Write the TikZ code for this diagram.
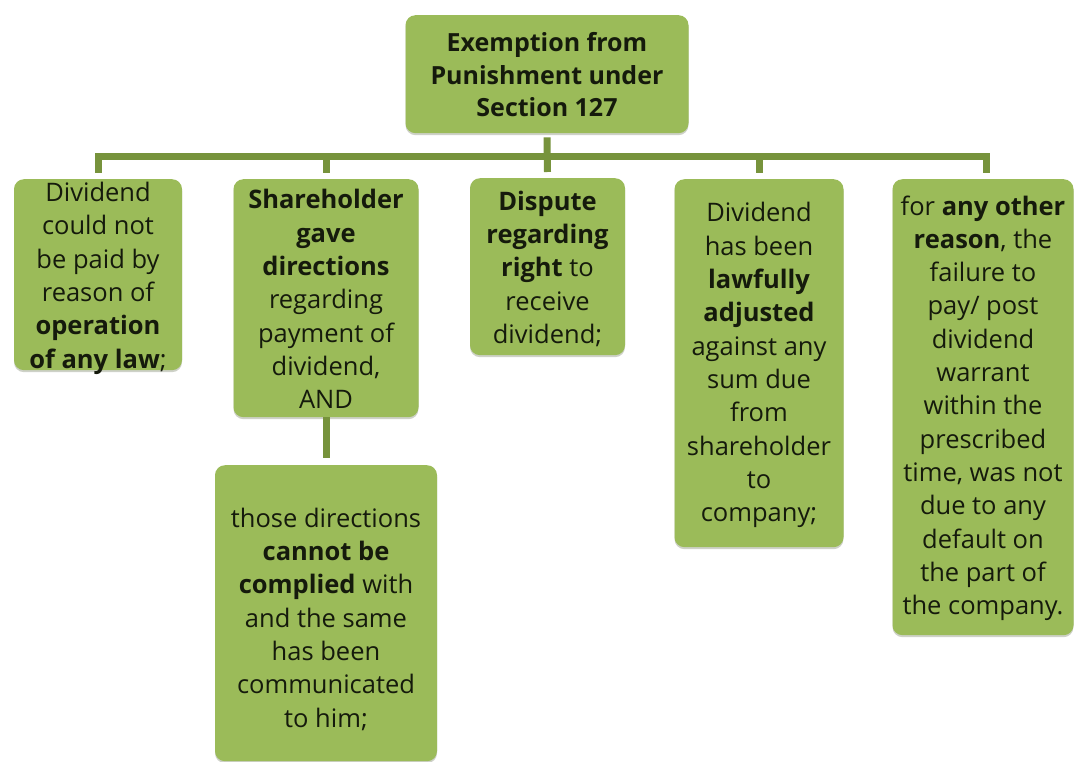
\documentclass[tikz,border=0pt]{standalone}
\usepackage{fontspec}
\setmainfont{Open Sans}
\usetikzlibrary{shadows}
\definecolor{boxgreen}{HTML}{9BBB59}
\definecolor{linegreen}{HTML}{77933C}
\definecolor{ink}{HTML}{151A0C}
\begin{document}
\begin{tikzpicture}[x=1pt,y=-1pt,
  box/.style={draw=none, fill=boxgreen, rounded corners=10pt, inner sep=0pt,
    anchor=north,
    drop shadow={shadow xshift=0pt, shadow yshift=-2pt, opacity=0.25, fill=black!60!boxgreen}},
  txt/.style={inner sep=0pt, align=center, text=ink,
    font=\fontsize{25.5}{33.3}\selectfont},
  conn/.style={draw=linegreen, line width=7pt, line join=miter, line cap=butt}]
\useasboundingbox[fill=white] (0,0) rectangle (1074,762);

% boxes
\node[box, minimum width=283pt, minimum height=118pt] (top) at (547,15) {};
\node[box, minimum width=168pt, minimum height=191pt] (b1) at (98,179) {};
\node[box, minimum width=185pt, minimum height=238pt] (b2) at (326,179) {};
\node[box, minimum width=155pt, minimum height=177pt] (b3) at (547.5,178) {};
\node[box, minimum width=169pt, minimum height=368pt] (b4) at (759,179) {};
\node[box, minimum width=181pt, minimum height=456pt] (b5) at (983,179) {};
\node[box, minimum width=222pt, minimum height=296pt] (b6) at (326,465) {};

% texts
\node[txt, font=\fontsize{25}{32.2}\selectfont\bfseries] (ttop) at ([yshift=-0.5pt]top.center)
  {Exemption from\\ Punishment under\\ Section 127};
\node[txt] (t1) at ([yshift=-3.5pt]b1.center)
  {Dividend\\ could not\\ be paid by\\ reason of\\ \textbf{operation}\\ \textbf{of any law};};
\node[txt] (t2) at ([yshift=-1pt]b2.center)
  {\textbf{Shareholder}\\ \textbf{gave}\\ \textbf{directions}\\ regarding\\ payment of\\ dividend,\\ AND};
\node[txt] (t3) at ([yshift=-2pt]b3.center)
  {\textbf{Dispute}\\ \textbf{regarding}\\ \textbf{right} to\\ receive\\ dividend;};
\node[txt] (t4) at ([yshift=-2pt]b4.center)
  {Dividend\\ has been\\ \textbf{lawfully}\\ \textbf{adjusted}\\ against any\\ sum due\\ from\\ shareholder\\ to\\ company;};
\node[txt] (t5) at ([yshift=-1pt]b5.center)
  {for \textbf{any other}\\ \textbf{reason}, the\\ failure to\\ pay/ post\\ dividend\\ warrant\\ within the\\ prescribed\\ time, was not\\ due to any\\ default on\\ the part of\\ the company.};
\node[txt] (t6) at ([yshift=-6pt]b6.center)
  {those directions\\ \textbf{cannot be}\\ \textbf{complied} with\\ and the same\\ has been\\ communicated\\ to him;};

% connectors
\coordinate (bus) at (0,156.5);
\draw[conn] ([yshift=6pt]b1.north) -- (b1.north |- bus) -- ([xshift=3pt]b5.north |- bus) -- ([xshift=3pt,yshift=6pt]b5.north);
\draw[conn] ([yshift=-4pt]top.south) -- ([yshift=6pt]b3.north);
\draw[conn] (b2.north |- bus) -- ([yshift=6pt]b2.north);
\draw[conn] (b4.north |- bus) -- ([yshift=6pt]b4.north);
\draw[conn] (b2.south) -- ([yshift=7pt]b6.north);
\end{tikzpicture}
\end{document}
